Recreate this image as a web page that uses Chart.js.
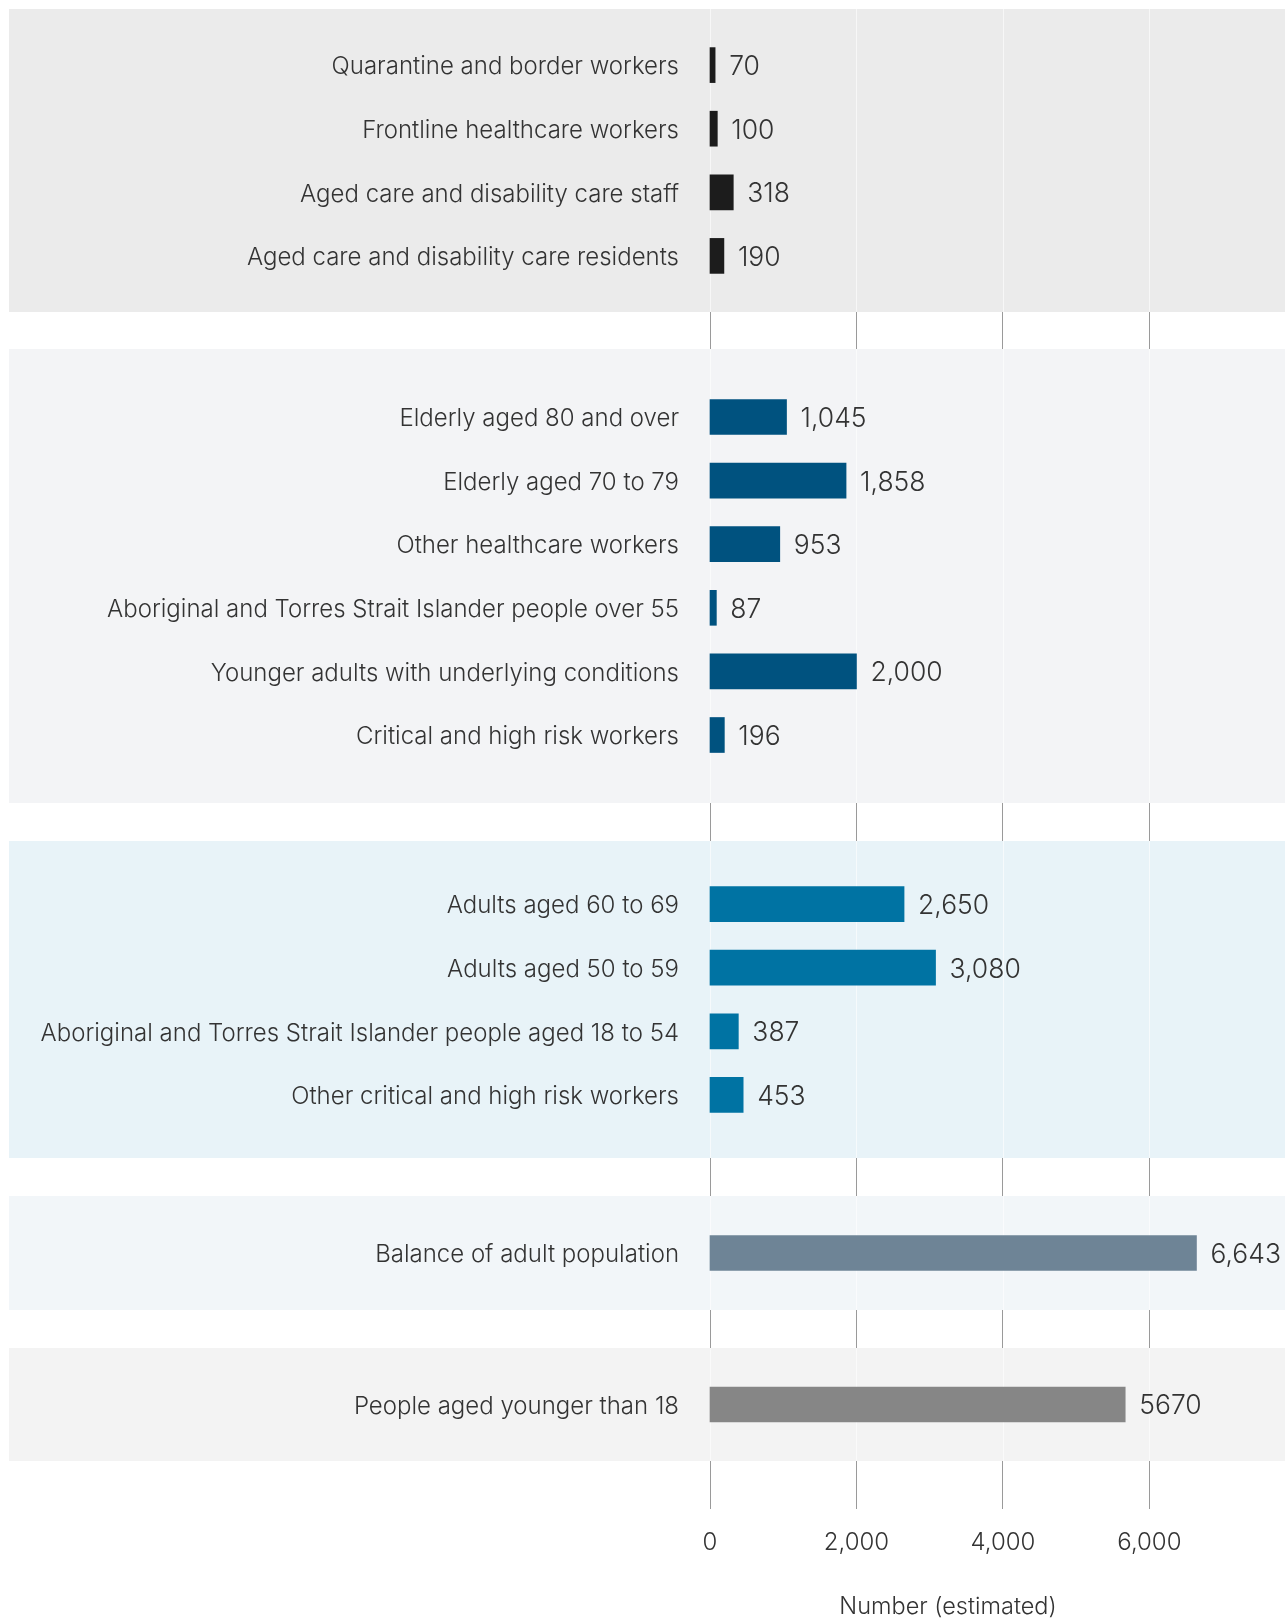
<!DOCTYPE html>
<html lang="en">
<head>
<meta charset="UTF-8" />
<title>Vaccine rollout: people in each phase</title>
<script src="https://cdn.jsdelivr.net/npm/chart.js"></script>
<style>
  * { margin: 0; padding: 0; box-sizing: border-box; }
  body { background: #fff; font-family: Inter, sans-serif; }
  #wrap { position: relative; width: 1285px; height: 1618px; overflow: hidden; }
  #axisChart { position: absolute; left: 0; top: 0; }
  .panel { position: absolute; left: 9px; width: 1276px; }
  .panel canvas { display: block; }
</style>
</head>
<body>
<div id="wrap">
  <canvas id="axisChart" width="1285" height="1618"></canvas>
</div>
<script>
// estimated number of people in each group (thousands)
const phase1aLabels = [
  "Quarantine and border workers",
  "Frontline healthcare workers",
  "Aged care and disability care staff",
  "Aged care and disability care residents"
];
const phase1aValues = [70, 100, 318, 190];

const phase1bLabels = [
  "Elderly aged 80 and over",
  "Elderly aged 70 to 79",
  "Other healthcare workers",
  "Aboriginal and Torres Strait Islander people over 55",
  "Younger adults with underlying conditions",
  "Critical and high risk workers"
];
const phase1bValues = [1045, 1858, 953, 87, 2000, 196];

const phase2aLabels = [
  "Adults aged 60 to 69",
  "Adults aged 50 to 59",
  "Aboriginal and Torres Strait Islander people aged 18 to 54",
  "Other critical and high risk workers"
];
const phase2aValues = [2650, 3080, 387, 453];

const phase2bLabels = ["Balance of adult population"];
const phase2bValues = [6643];

const phase3Labels = ["People aged younger than 18"];
const phase3Values = [5670];

const xTicks = [0, 2000, 4000, 6000];
const xMax = 6500;

// one shaded band per phase
const panels = [
  { labels: phase1aLabels, values: phase1aValues, top: 9,    height: 303, bg: "#ebebeb", bar: "#1c1c1c", commas: true },
  { labels: phase1bLabels, values: phase1bValues, top: 349,  height: 454, bg: "#f3f4f6", bar: "#00527f", commas: true },
  { labels: phase2aLabels, values: phase2aValues, top: 841,  height: 317, bg: "#e8f3f8", bar: "#0073a3", commas: true },
  { labels: phase2bLabels, values: phase2bValues, top: 1196, height: 114, bg: "#f2f6f9", bar: "#6e8496", commas: true },
  { labels: phase3Labels,  values: phase3Values,  top: 1348, height: 113, bg: "#f3f3f3", bar: "#868686", commas: false }
];

const rowPitch = 63.6;
const labelWidth = 701;
const rightPad = 99;
const textColor = "#333";

// light gridlines running the full height of a band
const panelGrid = {
  id: "panelGrid",
  beforeDatasetsDraw(chart) {
    const { ctx, scales: { x } } = chart;
    ctx.save();
    ctx.strokeStyle = "rgba(255,255,255,0.6)";
    ctx.lineWidth = 1;
    xTicks.forEach((v) => {
      const px = Math.round(x.getPixelForValue(v)) + 0.5;
      ctx.beginPath();
      ctx.moveTo(px, 0);
      ctx.lineTo(px, chart.height);
      ctx.stroke();
    });
    ctx.restore();
  }
};

// value printed at the end of each bar
const valueLabels = {
  id: "valueLabels",
  afterDatasetsDraw(chart, args, opts) {
    const { ctx } = chart;
    const ds = chart.data.datasets[0];
    ctx.save();
    ctx.font = "300 26.5px Inter";
    ctx.fillStyle = textColor;
    ctx.textBaseline = "middle";
    ctx.textAlign = "left";
    chart.getDatasetMeta(0).data.forEach((bar, i) => {
      const v = ds.data[i];
      const txt = opts.commas ? v.toLocaleString("en-US") : String(v);
      ctx.fillText(txt, bar.x + 14, bar.y + 2);
    });
    ctx.restore();
  }
};

const wrap = document.getElementById("wrap");

panels.forEach((p) => {
  const div = document.createElement("div");
  div.className = "panel";
  div.style.top = p.top + "px";
  div.style.height = p.height + "px";
  div.style.background = p.bg;
  const canvas = document.createElement("canvas");
  canvas.width = 1276;
  canvas.height = p.height;
  div.appendChild(canvas);
  wrap.appendChild(div);

  const pad = (p.height - p.labels.length * rowPitch) / 2;

  new Chart(canvas, {
    type: "bar",
    data: {
      labels: p.labels,
      datasets: [{ data: p.values, backgroundColor: p.bar, barThickness: 35, clip: false }]
    },
    plugins: [panelGrid, valueLabels],
    options: {
      indexAxis: "y",
      responsive: false,
      animation: false,
      layout: { padding: { top: pad, bottom: pad, left: 0, right: rightPad } },
      plugins: {
        legend: { display: false },
        tooltip: { enabled: false },
        valueLabels: { commas: p.commas }
      },
      scales: {
        x: { display: false, min: 0, max: xMax },
        y: {
          grid: { display: false },
          border: { display: false },
          ticks: {
            color: textColor,
            font: { family: "Inter", size: 24, weight: 300 },
            padding: 23,
            labelOffset: 2
          },
          afterFit: (s) => {
            s.width = labelWidth;
            // keep the rows on a fixed pitch, labels never reach the band edges
            s.paddingTop = 0;
            s.paddingBottom = 0;
          }
        }
      }
    }
  });
});

// shared value axis behind the bands
new Chart(document.getElementById("axisChart"), {
  type: "bar",
  data: { labels: [], datasets: [] },
  options: {
    indexAxis: "y",
    responsive: false,
    animation: false,
    layout: { padding: { top: 9, left: 9 + labelWidth, right: rightPad, bottom: 0 } },
    plugins: { legend: { display: false }, tooltip: { enabled: false } },
    scales: {
      y: { display: false },
      x: {
        min: 0,
        max: xMax,
        afterBuildTicks: (s) => { s.ticks = xTicks.map((v) => ({ value: v })); },
        afterFit: (s) => { s.height = 109; },
        grid: { color: "#9a9a9a", drawTicks: false },
        border: { display: false },
        ticks: {
          color: textColor,
          font: { family: "Inter", size: 24, weight: 300 },
          padding: 19,
          callback: (v) => v.toLocaleString("en-US")
        },
        title: {
          display: true,
          text: "Number (estimated)",
          color: textColor,
          font: { family: "Inter", size: 23.5, weight: 300, lineHeight: 1 },
          padding: { top: 0, bottom: -1 }
        }
      }
    }
  }
});
</script>
</body>
</html>
